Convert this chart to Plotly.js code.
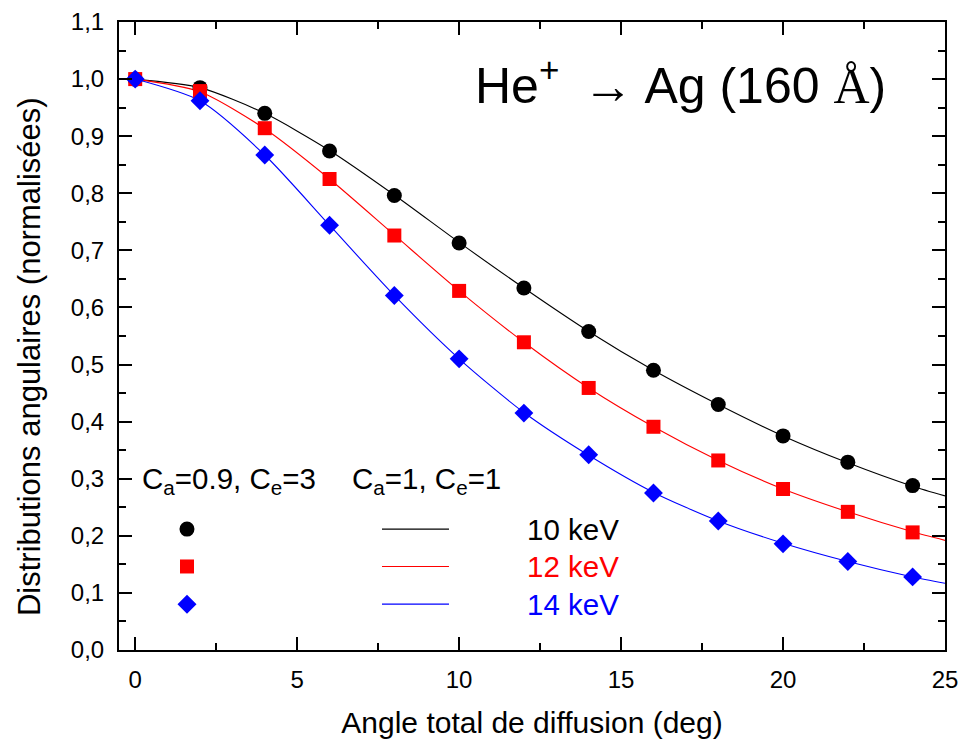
<!DOCTYPE html>
<html>
<head>
<meta charset="utf-8">
<script src="https://cdn.plot.ly/plotly-3.0.1.min.js"></script>
<style>html,body{margin:0;padding:0;background:#fff;}#chart{width:961px;height:740px;}</style>
</head>
<body>
<div id="chart"></div>
<script>
// ---- data ----
const angleMarkers = [0, 2, 4, 6, 8, 10, 12, 14, 16, 18, 20, 22, 24];
const circles10keV = [1.0, 0.985, 0.940, 0.874, 0.796, 0.713, 0.634, 0.558, 0.490, 0.430, 0.375, 0.329, 0.288];
const squares12keV = [1.0, 0.979, 0.914, 0.825, 0.726, 0.629, 0.539, 0.459, 0.391, 0.332, 0.282, 0.242, 0.206];
const diamonds14keV = [1.0, 0.962, 0.867, 0.744, 0.621, 0.510, 0.415, 0.342, 0.275, 0.226, 0.186, 0.155, 0.128];

const angleLines = [0, 2, 4, 6, 8, 10, 12, 14, 16, 18, 20, 22, 24, 25];
const line10keV = [1.0, 0.985, 0.940, 0.875, 0.797, 0.714, 0.634, 0.558, 0.490, 0.430, 0.375, 0.328, 0.287, 0.270];
const line12keV = [1.0, 0.978, 0.913, 0.825, 0.727, 0.629, 0.539, 0.459, 0.391, 0.332, 0.282, 0.242, 0.207, 0.192];
const line14keV = [1.0, 0.962, 0.867, 0.744, 0.621, 0.510, 0.416, 0.341, 0.276, 0.226, 0.187, 0.155, 0.128, 0.117];

const seriesLabels = ['10 keV', '12 keV', '14 keV'];
const seriesColors = ['#000000', '#ff0000', '#0000ff'];
const xTitle = 'Angle total de diffusion (deg)';
const yTitle = 'Distributions angulaires (normalisées)';
const chartTitle = 'He<sup>+</sup>\u2009 \u2192 Ag (160 <span style="font-family:\'Liberation Serif\'">Å</span>)';
const modelLabelMarkers = 'C<sub>a</sub>=0.9, C<sub>e</sub>=3';
const modelLabelLines = 'C<sub>a</sub>=1, C<sub>e</sub>=1';

const FONT = 'Arial, "Liberation Sans", sans-serif';

const lineData = [line10keV, line12keV, line14keV];
const markerData = [circles10keV, squares12keV, diamonds14keV];
const symbols = ['circle', 'square', 'diamond'];
const sizes = [15, 14, 14.5];

const traces = [];
lineData.forEach((ys, i) => {
  traces.push({x: angleLines, y: ys, mode: 'lines', type: 'scatter',
    line: {color: seriesColors[i], width: 1.1, shape: 'spline', smoothing: 0.7},
    showlegend: false, hoverinfo: 'skip'});
});
markerData.forEach((ys, i) => {
  traces.push({x: angleMarkers, y: ys, mode: 'markers', type: 'scatter',
    marker: {symbol: symbols[i], color: seriesColors[i], size: sizes[i], line: {width: 0}},
    showlegend: false, hoverinfo: 'skip'});
});

// legend layout (paper coords)
const legMarkerX = 0.0823;
const legRowY = [0.1925, 0.1330, 0.0730];
const legLineX0 = 0.3184, legLineX1 = 0.3995;
const legTextX = 0.4915;

const shapes = [];
shapes.push({type: 'circle', xref: 'paper', yref: 'paper', xsizemode: 'pixel', ysizemode: 'pixel',
  xanchor: legMarkerX, yanchor: legRowY[0], x0: -7.5, x1: 7.5, y0: -7.5, y1: 7.5,
  fillcolor: seriesColors[0], line: {width: 0}});
shapes.push({type: 'rect', xref: 'paper', yref: 'paper', xsizemode: 'pixel', ysizemode: 'pixel',
  xanchor: legMarkerX, yanchor: legRowY[1], x0: -7, x1: 7, y0: -7, y1: 7,
  fillcolor: seriesColors[1], line: {width: 0}});
shapes.push({type: 'path', xref: 'paper', yref: 'paper', xsizemode: 'pixel', ysizemode: 'pixel',
  xanchor: legMarkerX, yanchor: legRowY[2], path: 'M -9.5 0 L 0 9.5 L 9.5 0 L 0 -9.5 Z',
  fillcolor: seriesColors[2], line: {width: 0}});
seriesColors.forEach((c, i) => {
  shapes.push({type: 'line', xref: 'paper', yref: 'paper', x0: legLineX0, x1: legLineX1,
    y0: legRowY[i], y1: legRowY[i], line: {color: c, width: 1.1}});
});

const annotations = [];
seriesLabels.forEach((t, i) => {
  annotations.push({text: t, xref: 'paper', yref: 'paper', x: legTextX, y: legRowY[i],
    xanchor: 'left', yanchor: 'middle', showarrow: false,
    font: {family: FONT, size: 29.5, color: seriesColors[i]}});
});
annotations.push({text: modelLabelMarkers, xref: 'paper', yref: 'paper', x: 0.0254, y: 0.270,
  xanchor: 'left', yanchor: 'middle', showarrow: false, font: {family: FONT, size: 29.5, color: '#000'}});
annotations.push({text: modelLabelLines, xref: 'paper', yref: 'paper', x: 0.2797, y: 0.270,
  xanchor: 'left', yanchor: 'middle', showarrow: false, font: {family: FONT, size: 29.5, color: '#000'}});
annotations.push({text: chartTitle, xref: 'paper', yref: 'paper', x: 0.4286, y: 0.905,
  xanchor: 'left', yanchor: 'middle', showarrow: false, font: {family: FONT, size: 50, color: '#000'}});
// y-axis title (drawn as rotated annotation to match its offset position)
annotations.push({text: yTitle, xref: 'paper', yref: 'paper', x: -0.1077, y: 0.4666,
  xanchor: 'center', yanchor: 'middle', textangle: -90, showarrow: false,
  font: {family: FONT, size: 31, color: '#000'}});

const axisCommon = {
  showgrid: false, zeroline: false, showline: true, linecolor: '#000', linewidth: 2,
  mirror: 'allticks', ticks: 'inside', ticklen: 13, tickwidth: 2, tickcolor: '#000',
  tickfont: {family: FONT, size: 24, color: '#000'}
};

const layout = {
  width: 961, height: 740,
  margin: {l: 119, r: 16, t: 22, b: 90, pad: 0},
  paper_bgcolor: '#fff', plot_bgcolor: '#fff',
  separators: ',.',
  font: {family: FONT, color: '#000'},
  xaxis: Object.assign({}, axisCommon, {
    range: [-0.5, 25], tick0: 0, dtick: 5, tickformat: 'd', ticklabelstandoff: 7,
    minor: {dtick: 2.5, ticks: 'inside', ticklen: 7, tickwidth: 2, tickcolor: '#000'},
    title: {text: xTitle, font: {family: FONT, size: 30, color: '#000'}, standoff: 20}
  }),
  yaxis: Object.assign({}, axisCommon, {
    range: [0, 1.1], tick0: 0, dtick: 0.1, tickformat: '.1f', ticklabelstandoff: 8,
    minor: {dtick: 0.05, ticks: 'inside', ticklen: 7, tickwidth: 2, tickcolor: '#000'}
  }),
  shapes: shapes,
  annotations: annotations,
  showlegend: false
};

Plotly.newPlot('chart', traces, layout, {displayModeBar: false, staticPlot: true});
</script>
</body>
</html>
